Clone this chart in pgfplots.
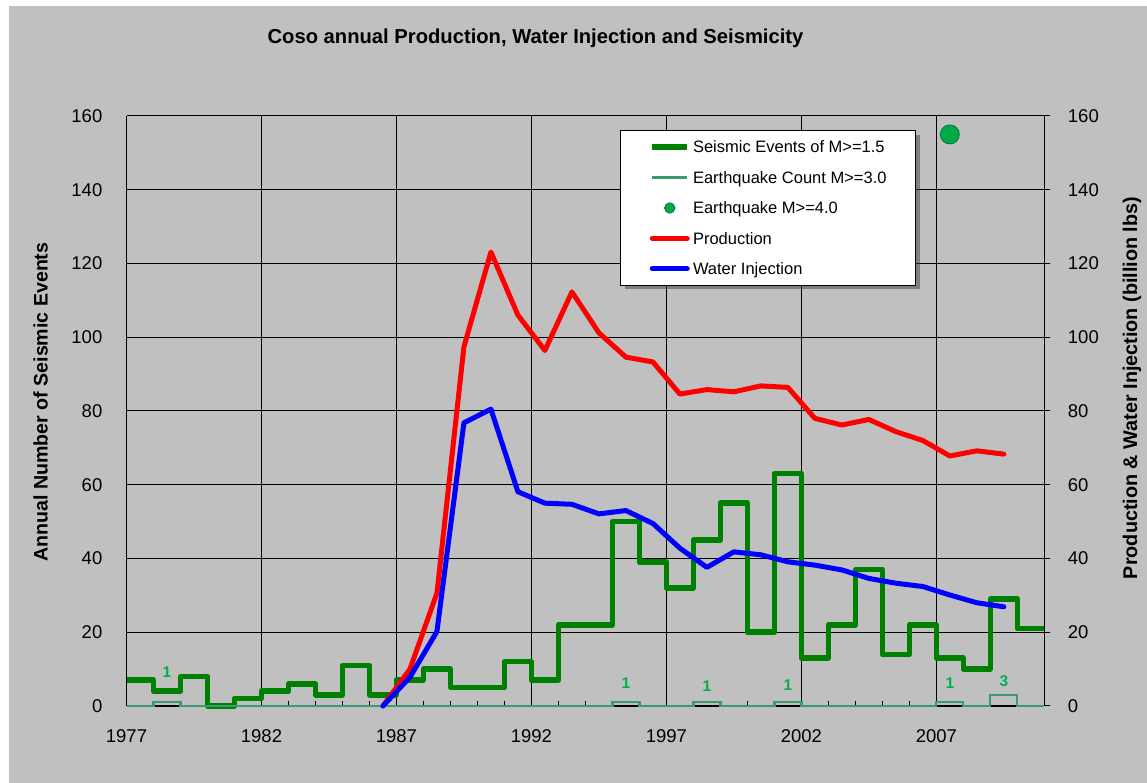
\documentclass[border=0pt]{standalone}
\usepackage{fontspec}
\setmainfont{Liberation Sans}
\usepackage{pgfplots}
\usepackage{pgfplotstable}
\pgfplotsset{compat=1.18}
\usetikzlibrary{shadows}

\definecolor{bggray}{RGB}{192,192,192}
\definecolor{seisgreen}{RGB}{0,128,0}
\definecolor{quakegreen}{RGB}{60,155,110}
\definecolor{labgreen}{RGB}{0,176,80}
\definecolor{dotgreen}{RGB}{0,170,70}

% the legend box shadow must not reach the sample lines
\makeatletter
\tikzset{no preactions/.code={\let\tikz@preactions\pgfutil@empty}}
\makeatother

\pgfplotsset{
  dot legend/.style={legend image code/.code={\draw[no preactions,##1] plot coordinates {(17.5bp,0bp)};}},
}

% annual seismic events M>=1.5 (value holds for the year)
\pgfplotstableread{
year n
1977 7
1978 4
1979 8
1980 0
1981 2
1982 4
1983 6
1984 3
1985 11
1986 3
1987 7
1988 10
1989 5
1990 5
1991 12
1992 7
1993 22
1994 22
1995 50
1996 39
1997 32
1998 45
1999 55
2000 20
2001 63
2002 13
2003 22
2004 37
2005 14
2006 22
2007 13
2008 10
2009 29
2010 21
2011 21
}\seismic

% earthquake count M>=3.0
\pgfplotstableread{
year n
1977 0
1978 1
1979 0
1995 1
1996 0
1998 1
1999 0
2001 1
2002 0
2007 1
2008 0
2009 3
2010 0
2011 0
}\quakes

\pgfplotstableread{
year v
1986.5 0
1987.5 10
1988.5 30.6
1989.5 97.4
1990.5 123.1
1991.5 106
1992.5 96.4
1993.5 112.3
1994.5 101.2
1995.5 94.6
1996.5 93.3
1997.5 84.6
1998.5 85.8
1999.5 85.2
2000.5 86.8
2001.5 86.4
2002.5 78
2003.5 76.2
2004.5 77.7
2005.5 74.4
2006.5 72
2007.5 67.8
2008.5 69.2
2009.5 68.3
}\production

\pgfplotstableread{
year v
1986.5 0
1987.5 7.8
1988.5 20.2
1989.5 76.8
1990.5 80.5
1991.5 58.1
1992.5 55
1993.5 54.7
1994.5 52.1
1995.5 53
1996.5 49.5
1997.5 42.8
1998.5 37.6
1999.5 41.8
2000.5 41
2001.5 39.1
2002.5 38.2
2003.5 36.9
2004.5 34.6
2005.5 33.3
2006.5 32.4
2007.5 30.1
2008.5 28
2009.5 26.9
}\injection

\pgfplotstableread{
x y lab
1978.5 9.2 1
1995.5 6.2 1
1998.5 5.4 1
2001.5 5.7 1
2007.5 6.2 1
2009.5 6.8 3
}\countlabels

\begin{document}
\begin{tikzpicture}[x=1bp,y=1bp]
\fill[white] (0,0) rectangle (1147,783);
\fill[bggray] (9,0) rectangle (1147,777);
\node[font=\fontsize{20.2bp}{23bp}\selectfont\bfseries, anchor=base, inner sep=0pt]
  at (535.5,739.7) {Coso annual Production, Water Injection and Seismicity};

\begin{axis}[
  at={(126.5bp,77bp)}, anchor=south west,
  scale only axis, width=917.8bp, height=590bp,
  xmin=1977, xmax=2011, ymin=0, ymax=160,
  axis x line*=bottom, axis y line*=left,
  axis line style={black, line width=1.2bp, -},
  xtick={1977,1982,...,2007},
  minor xtick={1978,...,2010},
  ytick={0,20,...,160},
  grid=major,
  major grid style={black, line width=1bp},
  tick align=inside,
  major tick length=5bp, minor tick length=5bp,
  x tick style={black, line width=1bp},
  y tick style={draw=none},
  /pgf/number format/assume math mode=true,
  tick label style={font=\fontsize{18.5bp}{22bp}\selectfont},
  xticklabel style={/pgf/number format/1000 sep={}, anchor=north, inner sep=0pt, yshift=-23.3bp},
  yticklabel style={anchor=east, inner sep=0pt, xshift=-24bp},
  ylabel={Annual Number of Seismic Events},
  every axis y label/.style={at={(axis description cs:-0.0937,0.515)}, rotate=90, anchor=center,
    font=\fontsize{19.6bp}{22bp}\selectfont\bfseries},
  clip=false,
  legend image code/.code={\draw[no preactions,#1] (0bp,0bp) -- (35bp,0bp);},
  legend style={at={(0.5377,0.976)}, anchor=north west, draw=black, line width=1bp, fill=white,
    drop shadow={shadow xshift=4bp, shadow yshift=-4bp, fill=black!75},
    inner xsep=29bp, inner ysep=10.3bp, row sep=17.9bp, column sep=3bp,
    font=\fontsize{16.5bp}{18bp}\selectfont,
    nodes={inner sep=0pt, text height=12bp, text depth=0.5bp},
    cells={anchor=west}},
]
\addplot[const plot, seisgreen, line width=5.5bp, line join=round] table[x=year, y=n] {\seismic};
\addlegendentry{Seismic Events of M>=1.5}
\addplot[const plot, quakegreen, line width=2.3bp] table[x=year, y=n] {\quakes};
\addlegendentry{Earthquake Count M>=3.0}
\addlegendimage{only marks, mark=*, mark size=5.3bp, mark options={fill=dotgreen, draw=dotgreen!70!black, line width=0.6bp}, dot legend}
\addlegendentry{Earthquake M>=4.0}
\addplot[red, line width=5bp, line join=round, line cap=round] table[x=year, y=v] {\production};
\addlegendentry{Production}
\addplot[blue, line width=5bp, line join=round, line cap=round] table[x=year, y=v] {\injection};
\addlegendentry{Water Injection}
\addplot[only marks, mark=*, mark size=9.5bp, mark options={fill=dotgreen, draw=dotgreen!70!black, line width=0.8bp}, forget plot]
  coordinates {(2007.5,155)};
\addplot[draw=none, mark=none, forget plot, nodes near coords, point meta=explicit symbolic,
  nodes near coords style={anchor=center, text=labgreen, font=\fontsize{15.5bp}{16bp}\selectfont\bfseries}]
  table[x=x, y=y, meta=lab] {\countlabels};
\end{axis}

\begin{axis}[
  at={(126.5bp,77bp)}, anchor=south west,
  scale only axis, width=917.8bp, height=590bp,
  xmin=1977, xmax=2011, ymin=0, ymax=160,
  axis x line=none, axis y line*=right,
  axis line style={black, line width=1.2bp, -},
  ytick={0,20,...,160},
  tick align=outside, major tick length=6bp,
  y tick style={black, line width=1bp},
  /pgf/number format/assume math mode=true,
  tick label style={font=\fontsize{18.5bp}{22bp}\selectfont},
  yticklabel style={anchor=west, inner sep=0pt, xshift=17.4bp},
  ylabel={Production \& Water Injection (billion lbs)},
  every axis y label/.style={at={(axis description cs:1.0956,0.539)}, rotate=90, anchor=center,
    font=\fontsize{19.8bp}{22bp}\selectfont\bfseries},
]
\end{axis}
\end{tikzpicture}
\end{document}
